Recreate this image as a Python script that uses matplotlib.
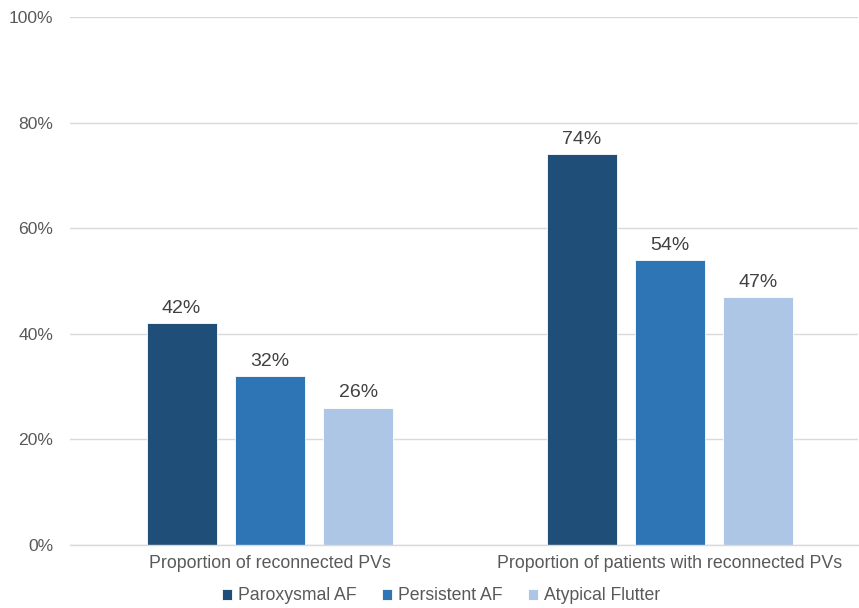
import numpy as np
import matplotlib.pyplot as plt

plt.rcParams["font.family"] = ["Liberation Sans", "DejaVu Sans"]

categories = ["Proportion of reconnected PVs", "Proportion of patients with reconnected PVs"]
series = ["Paroxysmal AF", "Persistent AF", "Atypical Flutter"]
paroxysmal = [42, 74]
persistent = [32, 54]
atypical = [26, 47]
colors = ["#1F4E79", "#2E75B6", "#ADC6E6"]

fig = plt.figure(figsize=(8.59, 6.08), dpi=100)
ax = fig.add_axes([70 / 859, 63 / 608, 788 / 859, 528 / 608])

x = np.arange(len(categories))
width = 0.175
step = 0.221
for i, (name, vals) in enumerate(zip(series, [paroxysmal, persistent, atypical])):
    pos = x + (i - 1) * step
    bars = ax.bar(pos, vals, width, color=colors[i], label=name,
                  edgecolor="white", linewidth=0.6, zorder=3)
    for b, v in zip(bars, vals):
        ax.text(b.get_x() + b.get_width() / 2, v + 1.2, f"{v:.0f}%",
                ha="center", va="bottom", fontsize=14, color="#404040")

ax.set_xlim(-0.5, 1.47)
ax.set_ylim(0, 100)
ax.set_yticks(range(0, 101, 20))
ax.set_yticklabels([f"{t}%" for t in range(0, 101, 20)])
ax.set_xticks(x)
ax.set_xticklabels(categories)
ax.tick_params(axis="y", length=0, labelsize=12.6, labelcolor="#595959", pad=12)
ax.tick_params(axis="x", length=0, labelsize=12.8, labelcolor="#595959", pad=7)
ax.grid(axis="y", color="#D9D9D9", linewidth=1, zorder=0)
for s in ["top", "right", "left"]:
    ax.spines[s].set_visible(False)
ax.spines["bottom"].set_color("#D9D9D9")
ax.spines["bottom"].set_linewidth(1)
ax.spines["bottom"].set_zorder(4)

leg = fig.legend(loc="center", bbox_to_anchor=(0.5135, 12 / 608), ncol=3,
                 frameon=False, fontsize=12.7, handlelength=0.6, handleheight=0.6,
                 handletextpad=0.35, columnspacing=1.4, labelcolor="#595959")

fig.savefig("out.png", dpi=100)
